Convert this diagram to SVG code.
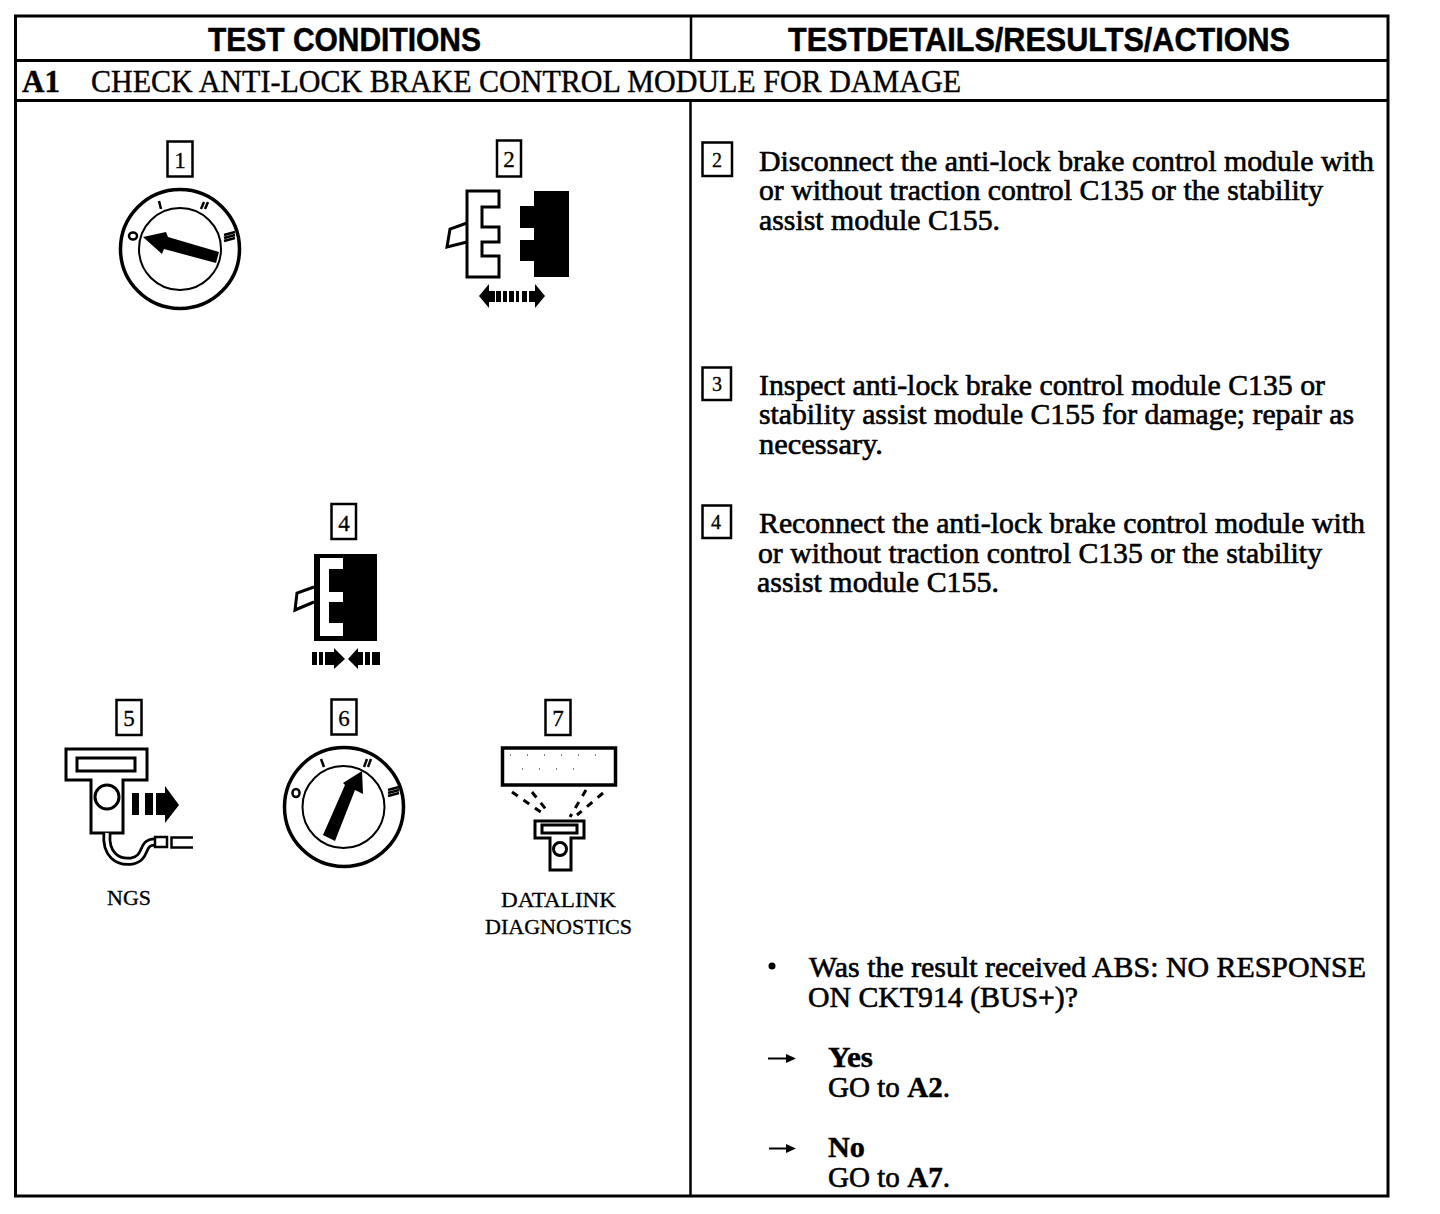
<svg xmlns="http://www.w3.org/2000/svg" width="1440" height="1214" viewBox="0 0 1440 1214">
<style>
text{fill:#000}
.hd{font:bold 33px "Liberation Sans",Arial,sans-serif;stroke:#000;stroke-width:.5}
.tt{font:31px "Liberation Serif","Times New Roman",serif;stroke:#000;stroke-width:.4}
.b{font:29px "Liberation Serif","Times New Roman",serif;stroke:#000;stroke-width:.6}
.bb{font:bold 29px "Liberation Serif","Times New Roman",serif;stroke:#000;stroke-width:.4}
.sm{font:21.500px "Liberation Serif","Times New Roman",serif;stroke:#000;stroke-width:.3}
.n{font:23px "Liberation Serif","Times New Roman",serif;text-anchor:middle;stroke:#000;stroke-width:.3}
.box{fill:#fff;stroke:#000;stroke-width:2.5}
.ln{fill:none;stroke:#000;stroke-width:3}
.rule{fill:none;stroke:#000;stroke-width:3}
.o{fill:#fff;stroke:#000;stroke-width:3;stroke-linejoin:miter}
.k{fill:#000}
.m{fill:none;stroke:#000;stroke-width:2.500}
.d{fill:none;stroke:#000;stroke-width:3;stroke-dasharray:7 7}
</style>
<rect width="1440" height="1214" fill="#fff"/>
<g id="table">
<rect class="rule" x="15.500" y="16" width="1372.500" height="1180"/>
<path class="rule" d="M15 60.500H1388M15 100.500H1388"/>
<path class="m" d="M691 16V60M690.500 100V1196"/>
<text class="hd" x="208" y="51" textLength="273" lengthAdjust="spacingAndGlyphs">TEST CONDITIONS</text>
<text class="hd" x="788" y="51" textLength="502" lengthAdjust="spacingAndGlyphs">TESTDETAILS/RESULTS/ACTIONS</text>
<text class="tt" x="22" y="92" textLength="38" style="font-weight:bold">A1</text>
<text class="tt" x="91" y="92" textLength="870" lengthAdjust="spacingAndGlyphs">CHECK ANTI-LOCK BRAKE CONTROL MODULE FOR DAMAGE</text>
</g>
<g id="step1">
<rect class="box" x="167.500" y="141.500" width="25" height="35"/>
<text class="n" x="180" y="168">1</text>
<circle cx="180" cy="249" r="59.500" fill="none" stroke="#000" stroke-width="3.500"/>
<circle cx="180" cy="249" r="41" fill="none" stroke="#000" stroke-width="2"/>
<polygon class="k" points="143,237 166,232 168,237 219,252 216,263 164,249 162,254"/>
<ellipse class="m" cx="133" cy="236" rx="4" ry="3.500"/>
<path class="m" d="M159 201L161 209M201 209L204 202M205 209L208 202M224 235L235 232M224 238L235 235M224 241L235 238"/>
</g>
<g id="step2">
<rect class="box" x="497" y="140.500" width="24" height="36"/>
<text class="n" x="509" y="167">2</text>
<path class="ln" d="M467 223L450 229L447 247L467 242"/>
<polygon class="o" points="467,191 499,191 499,207 482,207 482,227 499,227 499,242 482,242 482,256 499,256 499,277 467,277"/>
<polygon class="k" points="534,191 569,191 569,277 534,277 534,261 520,261 520,240 534,240 534,228 520,228 520,206 534,206"/>
<polygon class="k" points="479,296 489,284 489,291 495,291 495,302 489,302 489,308"/>
<polygon class="k" points="545,296 535,284 535,291 529,291 529,302 535,302 535,308"/>
<path class="k" d="M496 291h5v11h-5zM503 291h4v11h-4zM509 291h5v11h-5zM516 291h3v11h-3zM522 291h5v11h-5z"/>
</g>
<g id="step4">
<rect class="box" x="331.500" y="504" width="24.500" height="35"/>
<text class="n" x="344" y="531">4</text>
<path class="ln" d="M314 587L297 593L295 610L314 602"/>
<rect class="k" x="314" y="554" width="63" height="87"/>
<polygon fill="#fff" points="320,558 343,558 343,569 329,569 329,592 343,592 343,602 329,602 329,623 343,623 343,636 320,636"/>
<path class="k" d="M312 652h5v13h-5zM319 652h4v13h-4zM325 652h5v13h-5zM372 652h8v13h-8zM365 652h5v13h-5zM358 652h5v13h-5z"/>
<polygon class="k" points="345,659 334,648 334,669"/>
<polygon class="k" points="348,659 358,648 358,669"/>
<rect class="k" x="330" y="652" width="5" height="13"/>
</g>
<g id="step5">
<rect class="box" x="116.500" y="700" width="25" height="35"/>
<text class="n" x="129" y="726" font-style="italic">5</text>
<polygon class="o" points="66,749 147,749 147,780 123,780 123,833 91,833 91,780 66,780"/>
<rect class="o" x="77" y="758" width="58" height="13"/>
<circle class="o" cx="107" cy="797" r="12"/>
<path class="k" d="M132 793h7v22h-7zM145 793h8v22h-8zM156 793h10v22h-10z"/>
<polygon class="k" points="165,786 179,805 165,823"/>
<path fill="none" stroke="#000" stroke-width="9" d="M107 833C105 855 118 863 132 861C148 858 140 842 155 842"/>
<path fill="none" stroke="#fff" stroke-width="3.500" d="M107 833C105 855 118 863 132 861C148 858 140 842 155 842"/>
<rect class="o" x="155" y="837" width="12" height="10" style="stroke-width:2.500"/>
<path class="m" d="M193 837.500H171.500V847.500H193" style="stroke-width:2.500"/>
<text class="sm" x="107" y="905" textLength="44" lengthAdjust="spacingAndGlyphs">NGS</text>
</g>
<g id="step6">
<rect class="box" x="331.500" y="699.500" width="25" height="35"/>
<text class="n" x="344" y="726">6</text>
<circle cx="344" cy="807" r="59.500" fill="none" stroke="#000" stroke-width="3.500"/>
<circle cx="343.500" cy="807" r="41" fill="none" stroke="#000" stroke-width="2"/>
<polygon class="k" points="362,771 363,794 355,790 335,841 323,835 345,785 343,783"/>
<ellipse class="m" cx="296" cy="793" rx="3.500" ry="4"/>
<path class="m" d="M321 759L324 767M364 767L367 759M368 767L371 759M388 790L399 787M388 793L399 790M388 796L399 793"/>
</g>
<g id="step7">
<rect class="box" x="545.500" y="700" width="25" height="35"/>
<text class="n" x="558" y="726">7</text>
<rect x="502.500" y="748" width="113" height="37" fill="#fff" stroke="#000" stroke-width="3.500"/>
<path stroke="#000" stroke-width="1" stroke-dasharray="1 16" fill="none" d="M510 755H600M522 769H590"/>
<path class="d" d="M512 792L542 813M532 792L548 812M586 790L570 817M603 793L577 815"/>
<polygon class="o" points="535,821 584,821 584,838 571,838 571,870 550,870 550,838 535,838"/>
<rect class="o" x="542" y="825" width="35" height="8"/>
<circle class="o" cx="560" cy="849" r="6.500"/>
<text class="sm" x="501" y="907" textLength="115" lengthAdjust="spacingAndGlyphs">DATALINK</text>
<text class="sm" x="485" y="934" textLength="147" lengthAdjust="spacingAndGlyphs">DIAGNOSTICS</text>
</g>
<g id="detail2">
<rect class="box" x="702.500" y="142.500" width="29.500" height="33.500"/>
<text class="n" x="717" y="167" style="font-size:20px">2</text>
<text class="b" x="759" y="171" textLength="615" lengthAdjust="spacingAndGlyphs">Disconnect the anti-lock brake control module with</text>
<text class="b" x="759" y="200" textLength="564" lengthAdjust="spacingAndGlyphs">or without traction control C135 or the stability</text>
<text class="b" x="759" y="230" textLength="241" lengthAdjust="spacingAndGlyphs">assist module C155.</text>
</g>
<g id="detail3">
<rect class="box" x="702.500" y="367.500" width="28.500" height="32.500"/>
<text class="n" x="717" y="391" style="font-size:20px">3</text>
<text class="b" x="759" y="395" textLength="566" lengthAdjust="spacingAndGlyphs">Inspect anti-lock brake control module C135 or</text>
<text class="b" x="759" y="424" textLength="595" lengthAdjust="spacingAndGlyphs">stability assist module C155 for damage; repair as</text>
<text class="b" x="759" y="454" textLength="124" lengthAdjust="spacingAndGlyphs">necessary.</text>
</g>
<g id="detail4">
<rect class="box" x="702.500" y="505.500" width="28.500" height="32.500"/>
<text class="n" x="716" y="529" style="font-size:20px">4</text>
<text class="b" x="759" y="533" textLength="606" lengthAdjust="spacingAndGlyphs">Reconnect the anti-lock brake control module with</text>
<text class="b" x="758" y="563" textLength="564" lengthAdjust="spacingAndGlyphs">or without traction control C135 or the stability</text>
<text class="b" x="757" y="592" textLength="242" lengthAdjust="spacingAndGlyphs">assist module C155.</text>
</g>
<g id="question">
<circle class="k" cx="772" cy="966" r="3.500"/>
<text class="b" x="809" y="977" textLength="557" lengthAdjust="spacingAndGlyphs">Was the result received ABS: NO RESPONSE</text>
<text class="b" x="808" y="1007" textLength="270" lengthAdjust="spacingAndGlyphs">ON CKT914 (BUS+)?</text>
</g>
<g id="connectors">
<path d="M768 1058.500H788" stroke="#000" stroke-width="2" fill="none"/>
<polygon class="k" points="786,1054 796,1058.500 786,1063"/>
<path d="M769 1148.500H788" stroke="#000" stroke-width="2" fill="none"/>
<polygon class="k" points="786,1144 796,1148.500 786,1153"/>
</g>
<g id="answerYes">
<text class="bb" x="828" y="1067" textLength="45" lengthAdjust="spacingAndGlyphs">Yes</text>
<text class="b" x="828" y="1097" textLength="122" lengthAdjust="spacingAndGlyphs">GO to <tspan class="bb">A2</tspan>.</text>
</g>
<g id="answerNo">
<text class="bb" x="828" y="1157" textLength="37" lengthAdjust="spacingAndGlyphs">No</text>
<text class="b" x="828" y="1187" textLength="122" lengthAdjust="spacingAndGlyphs">GO to <tspan class="bb">A7</tspan>.</text>
</g>
</svg>
